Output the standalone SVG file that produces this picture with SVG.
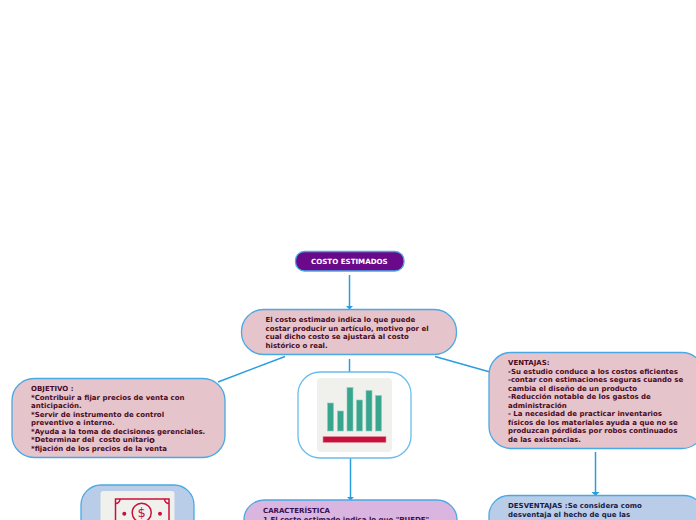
<svg xmlns="http://www.w3.org/2000/svg" width="696" height="520" viewBox="0 0 696 520">
<style>
text{font-family:"DejaVu Sans",sans-serif;font-weight:700;font-size:7px;fill:#4a0a24;white-space:pre}
.n{stroke:#4aa8e4;stroke-width:1.300}
.c{stroke:#2a9de0;stroke-width:1.500;fill:none}
.pk{fill:#e5c5cb}.bl{fill:#b9cde8}.pu{fill:#d9b5e0}
.ic{fill:#c8103a}
</style>
<defs><marker id="a" markerWidth="5" markerHeight="9" refX="4" refY="4.500" orient="auto" markerUnits="userSpaceOnUse"><path d="M0 0.500L4 4.500L0 8.500Z" fill="#2a9de0"/></marker></defs>
<g id="connectors">
<path class="c" d="M349.500 275V309.500" marker-end="url(#a)"/>
<path class="c" d="M285 356.500L218 382"/>
<path class="c" d="M349.500 359V372"/>
<path class="c" d="M435 356.500L490 372"/>
<path class="c" d="M350.500 458V500.500" marker-end="url(#a)"/>
<path class="c" d="M595.500 452V496" marker-end="url(#a)"/>
</g>
<g id="n1"><rect x="295.500" y="251.500" width="108.500" height="19.500" rx="9" fill="#6a0a8a" class="n"/><text x="311" y="264" style="fill:#fff;font-size:7.100px">COSTO ESTIMADOS</text></g>
<g id="n2"><rect class="pk n" x="241.500" y="309.500" width="215" height="45" rx="22"/>
<text x="265.500" y="322">El costo estimado indica lo que puede</text><text x="265.500" y="330.500">costar producir un artículo, motivo por el</text><text x="265.500" y="339">cual dicho costo se ajustará al costo</text><text x="265.500" y="347.500">histórico o real.</text></g>
<g id="n3"><rect class="pk n" x="12" y="378.500" width="213" height="79" rx="22"/>
<text x="31" y="391">OBJETIVO :</text><text x="31" y="399.500">*Contribuir a fijar precios de venta con</text><text x="31" y="407.500">anticipación.</text><text x="31" y="416.500">*Servir de instrumento de control</text><text x="31" y="425">preventivo e interno.</text><text x="31" y="433.500">*Ayuda a la toma de decisiones gerenciales.</text><text x="31" y="442">*Determinar del  costo unitari<tspan font-size="8.500" dy="1">o</tspan></text><text x="31" y="451">*fijación de los precios de la venta</text></g>
<g id="n4"><rect x="298" y="372" width="113" height="86" rx="22" fill="#fff" stroke="#6cbcec" stroke-width="1.300"/>
<rect x="317" y="378" width="75" height="74" rx="4" fill="#f0f0ec"/>
<g fill="#38a68f" stroke="#8fcdbc" stroke-width=".6"><rect x="327.500" y="403" width="6" height="28"/><rect x="337.500" y="411" width="6" height="20"/><rect x="347" y="387.500" width="6" height="43.500"/><rect x="356.500" y="400" width="6" height="31"/><rect x="366" y="390.500" width="6" height="40.500"/><rect x="375.500" y="395.500" width="6" height="35.500"/></g>
<rect x="323" y="436.500" width="63" height="6" fill="#c8103a" stroke="#e59aa8" stroke-width=".6"/></g>
<g id="n5"><rect class="pk n" x="489" y="352.500" width="215" height="96" rx="22"/>
<text x="508" y="364.500">VENTAJAS:</text><text x="508" y="374">-Su estudio conduce a los costos eficientes</text><text x="508" y="382">-contar con estimaciones seguras cuando se</text><text x="508" y="391">cambia el diseño de un producto</text><text x="508" y="399">-Reducción notable de los gastos de</text><text x="508" y="408">administración</text><text x="508" y="416">- La necesidad de practicar inventarios</text><text x="508" y="425">físicos de los materiales ayuda a que no se</text><text x="508" y="433">produzcan pérdidas por robos continuados</text><text x="508" y="441.500">de las existencias.</text></g>
<g id="n6"><rect class="bl n" x="81" y="485" width="113" height="60" rx="20"/>
<rect x="100.500" y="491" width="74" height="50" rx="3" fill="#f0f0ec"/>
<g fill="none" stroke="#c8103a" stroke-width="1.500"><rect x="115.500" y="499" width="53.500" height="30"/><circle cx="141.700" cy="512.700" r="9.500"/><path d="M115.500 503.500A4.500 4.500 0 0 0 120 499M169 503.500A4.500 4.500 0 0 1 164.500 499"/></g>
<circle class="ic" cx="124.300" cy="513.700" r="2"/><circle class="ic" cx="160" cy="513.700" r="2"/>
<text x="141.700" y="517" text-anchor="middle" style="font-size:13px;fill:#c8103a;font-weight:400">$</text></g>
<g id="n7"><rect class="pu n" x="244" y="500" width="213" height="60" rx="20"/>
<text x="263" y="513" style="fill:#3a0f50">CARACTERÍSTICA</text><text x="263" y="521.500" style="fill:#3a0f50">1.El costo estimado indica lo que "PUEDE"</text></g>
<g id="n8"><rect class="bl n" x="489" y="495.500" width="215" height="60" rx="20"/>
<text x="508" y="508" style="fill:#1a1a4a">DESVENTAJAS :Se considera como</text><text x="508" y="517" style="fill:#1a1a4a">desventaja el hecho de que las</text></g>
</svg>
